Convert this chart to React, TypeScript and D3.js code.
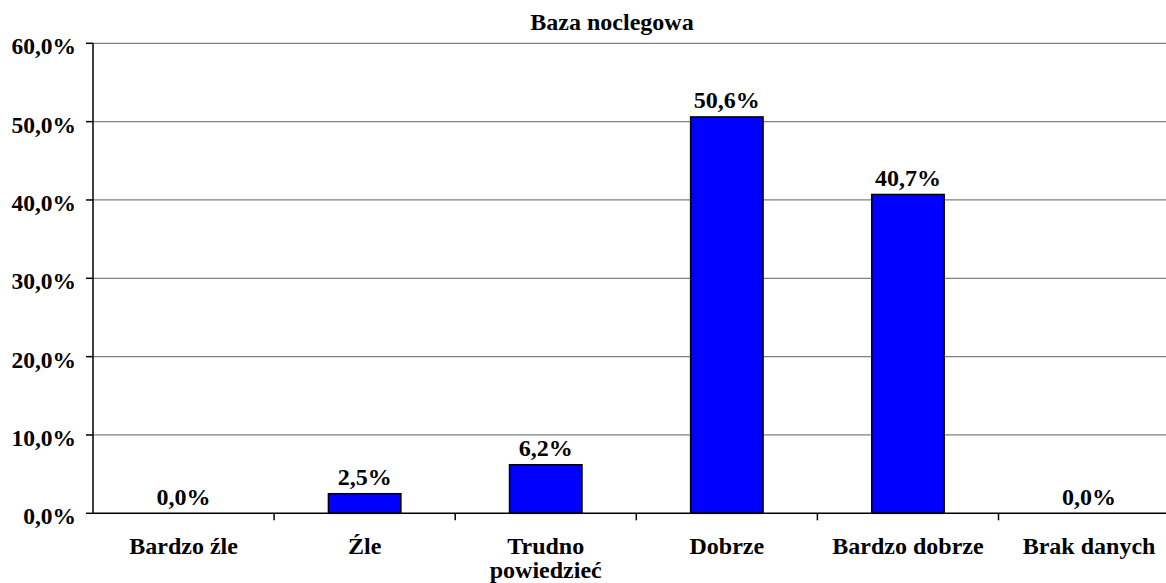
import React from 'react';
import * as d3 from 'd3';

const categories = ['Bardzo źle', 'Źle', 'Trudno powiedzieć', 'Dobrze', 'Bardzo dobrze', 'Brak danych'];
const values = [0.0, 2.5, 6.2, 50.6, 40.7, 0.0];
const yTicks = [0, 10, 20, 30, 40, 50, 60];
const title = 'Baza noclegowa';

const fmt = (v: number) => v.toFixed(1).replace('.', ',') + '%';

const width = 1166, height = 583;
const plot = { top: 43.3, left: 93, bottom: 513.3, right: 1179.6 };
const font = "'Liberation Serif'";

const App = () => {
  const x = d3.scaleBand<string>().domain(categories).range([plot.left, plot.right]);
  const y = d3.scaleLinear().domain([0, 60]).range([plot.bottom, plot.top]);
  const bw = x.bandwidth();
  const barW = bw * 0.4;

  return (
    <svg width={width} height={height}
      style={{ position: 'absolute', left: 0, top: 0, background: '#fff' }}
      fontFamily={font} fontWeight="bold" fontSize={24}>
      {/* gridlines */}
      {yTicks.slice(1).map(t => (
        <line key={'g' + t} x1={plot.left} x2={width} y1={y(t)} y2={y(t)}
          stroke="#808080" strokeWidth={1.3} />
      ))}

      {/* bars */}
      {values.map((v, i) => (
        <rect key={'b' + i}
          x={x(categories[i])! + (bw - barW) / 2} y={y(v)}
          width={barW} height={y(0) - y(v)}
          fill="#0000ff" stroke="#000" strokeWidth={1.5} />
      ))}

      {/* value labels */}
      {values.map((v, i) => (
        <text key={'v' + i} x={x(categories[i])! + bw / 2} y={y(v) - 8.5}
          textAnchor="middle">{fmt(v)}</text>
      ))}

      {/* y axis */}
      <line x1={plot.left} x2={plot.left} y1={plot.top} y2={plot.bottom} stroke="#000" strokeWidth={1.5} />
      {yTicks.map(t => (
        <g key={'y' + t}>
          <line x1={plot.left - 7} x2={plot.left} y1={y(t)} y2={y(t)} stroke="#000" strokeWidth={1.5} />
          <text x={plot.left - 17} y={y(t) + 11} textAnchor="end" fontSize={23.5}>{fmt(t)}</text>
        </g>
      ))}

      {/* x axis */}
      <line x1={plot.left} x2={width} y1={plot.bottom} y2={plot.bottom} stroke="#000" strokeWidth={1.5} />
      {categories.slice(1).map(c => (
        <line key={'xt' + c} x1={x(c)} x2={x(c)} y1={plot.bottom} y2={plot.bottom + 7}
          stroke="#000" strokeWidth={1.5} />
      ))}
      {categories.map(c => {
        const words = c === 'Trudno powiedzieć' ? ['Trudno', 'powiedzieć'] : [c];
        const cx = x(c)! + bw / 2;
        return words.map((w, i) => (
          <text key={'xl' + c + i} x={cx} y={plot.bottom + 41 + i * 24} textAnchor="middle">{w}</text>
        ));
      })}

      {/* title */}
      <text x={612} y={30} textAnchor="middle">{title}</text>
    </svg>
  );
};

export default App;
